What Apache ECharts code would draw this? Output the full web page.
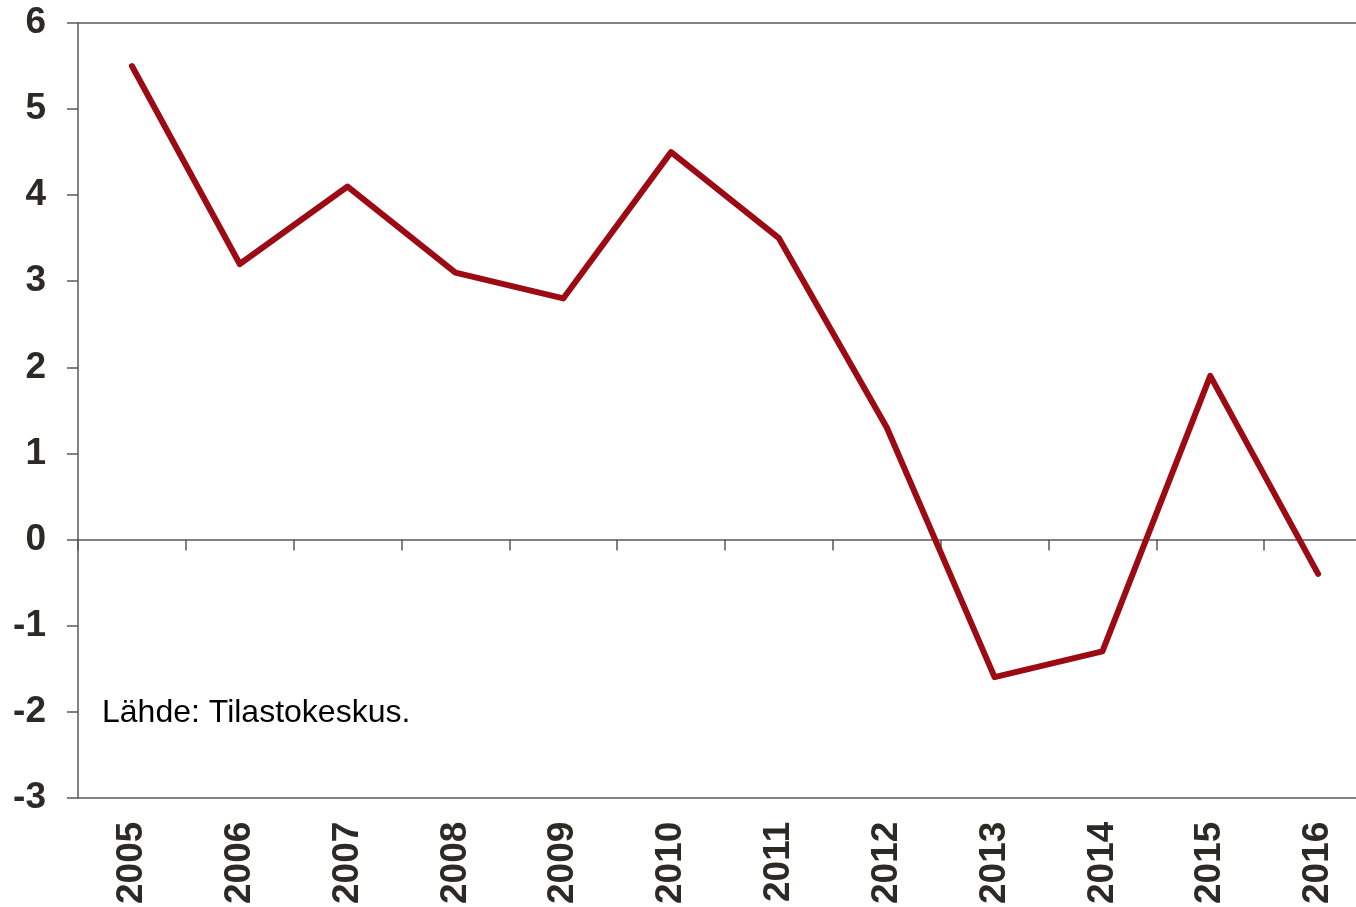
<!DOCTYPE html>
<html>
<head>
<meta charset="utf-8">
<script src="https://cdn.jsdelivr.net/npm/echarts@6/dist/echarts.min.js"></script>
<style>
  html, body { margin: 0; padding: 0; background: #fff; overflow: hidden; }
  /* kaavio jatkuu hieman oikean reunan yli, kuten alkuperäisessä */
  #chart { width: 1372px; height: 907px; }
</style>
</head>
<body>
<div id="chart"></div>
<script>
// vuodet ja arvot (luettu kuvasta)
var years = ['2005', '2006', '2007', '2008', '2009', '2010', '2011', '2012', '2013', '2014', '2015', '2016'];
var values = [5.5, 3.2, 4.1, 3.1, 2.8, 4.5, 3.5, 1.3, -1.6, -1.3, 1.9, -0.4];
var sourceNote = 'Lähde: Tilastokeskus.';

var axisColor = '#5a5a5a';
var labelColor = '#2d2a25';

var chart = echarts.init(document.getElementById('chart'));
chart.setOption({
  animation: false,
  title: {
    text: sourceNote,
    left: 102,
    top: 697,
    padding: 0,
    textStyle: { fontFamily: 'Liberation Sans, Arial', fontSize: 32, fontWeight: 'normal', color: '#000' }
  },
  grid: { left: 78, top: 23, bottom: 108, right: 0 },
  xAxis: [
    {
      // nollaviiva + jakoviivat
      type: 'category',
      data: years,
      position: 'bottom',
      axisLine: { onZero: true, lineStyle: { color: axisColor, width: 1.5 } },
      axisTick: { show: true, length: 11, lineStyle: { color: axisColor, width: 1.5 } },
      axisLabel: { show: false },
      splitLine: { show: false }
    },
    {
      type: 'category',
      data: years,
      position: 'bottom',
      axisLine: { onZero: false, lineStyle: { color: axisColor, width: 1.5 } },
      axisTick: { show: false },
      axisLabel: {
        rotate: 90,
        margin: 24,
        interval: 0,
        fontFamily: 'Liberation Sans, Arial',
        fontSize: 37,
        fontWeight: 'bold',
        color: labelColor
      },
      splitLine: { show: false }
    },
    {
      type: 'category',
      data: years,
      position: 'top',
      axisLine: { onZero: false, lineStyle: { color: axisColor, width: 1.5 } },
      axisTick: { show: false },
      axisLabel: { show: false },
      splitLine: { show: false }
    }
  ],
  yAxis: {
    type: 'value',
    min: -3,
    max: 6,
    interval: 1,
    axisLine: { show: true, onZero: false, lineStyle: { color: axisColor, width: 1.5 } },
    axisTick: { show: true, length: 11, lineStyle: { color: axisColor, width: 1.5 } },
    axisLabel: {
      margin: 32,
      fontFamily: 'Liberation Sans, Arial',
      fontSize: 37,
      fontWeight: 'bold',
      color: labelColor
    },
    splitLine: { show: false }
  },
  series: [
    {
      type: 'line',
      data: values,
      xAxisIndex: 0,
      symbol: 'none',
      lineStyle: { color: '#9c0a14', width: 6, cap: 'round', join: 'round' }
    }
  ]
});
</script>
</body>
</html>
